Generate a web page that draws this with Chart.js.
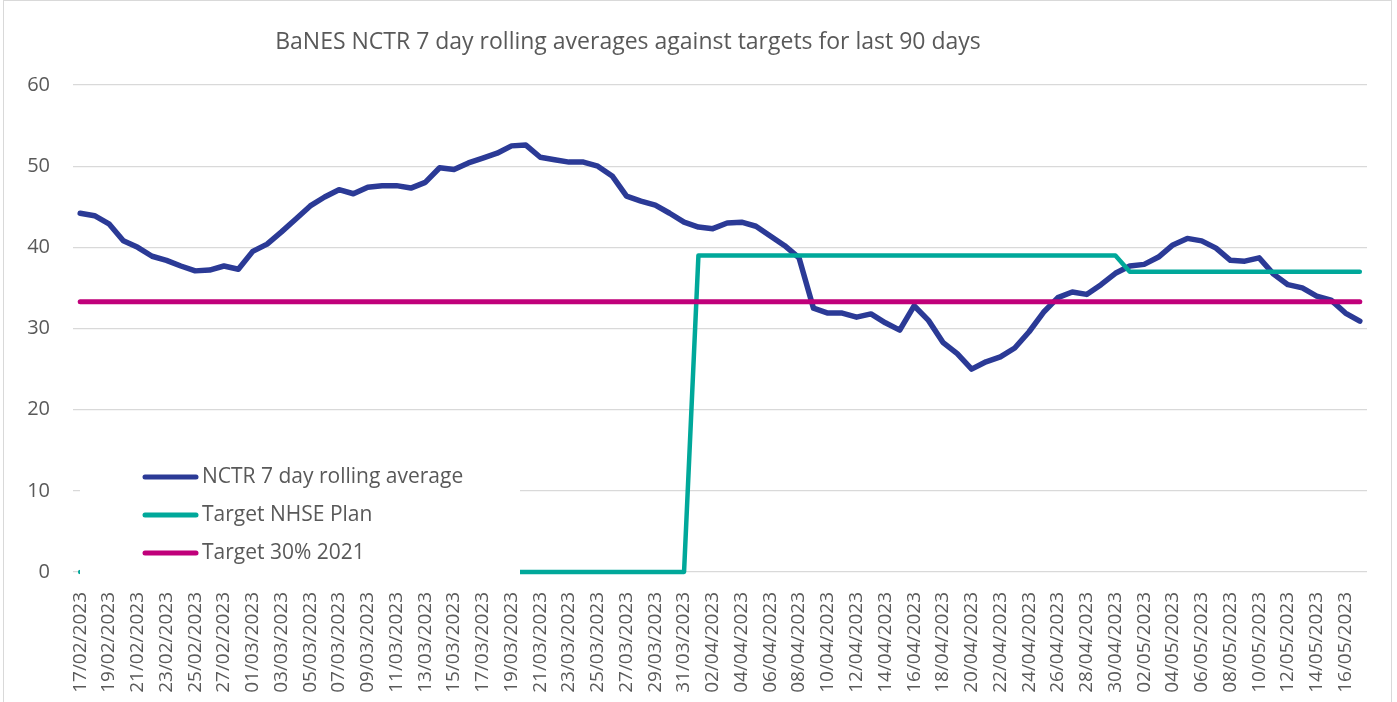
<!DOCTYPE html>
<html>
<head>
<meta charset="utf-8">
<script src="https://cdn.jsdelivr.net/npm/chart.js@4/dist/chart.umd.min.js"></script>
<style>
    html, body { margin: 0; padding: 0; background: #ffffff; overflow: hidden; }
    #wrap { position: relative; width: 1397px; height: 702px; }
    #frame { position: absolute; left: 3px; top: 0; width: 1387px; height: 720px; border: 1px solid #d9d9d9; pointer-events: none; }
</style>
</head>
<body>
<div id="wrap">
    <canvas id="nctrChart" width="1397" height="702"></canvas>
    <div id="frame"></div>
</div>
<script>
const chartTitle = 'BaNES NCTR 7 day rolling averages against targets for last 90 days';

const dates = [
    '17/02/2023', '18/02/2023', '19/02/2023', '20/02/2023', '21/02/2023', '22/02/2023', '23/02/2023', '24/02/2023',
    '25/02/2023', '26/02/2023', '27/02/2023', '28/02/2023',
    '01/03/2023', '02/03/2023', '03/03/2023', '04/03/2023', '05/03/2023', '06/03/2023', '07/03/2023', '08/03/2023',
    '09/03/2023', '10/03/2023', '11/03/2023', '12/03/2023', '13/03/2023', '14/03/2023', '15/03/2023', '16/03/2023',
    '17/03/2023', '18/03/2023', '19/03/2023', '20/03/2023', '21/03/2023', '22/03/2023', '23/03/2023', '24/03/2023',
    '25/03/2023', '26/03/2023', '27/03/2023', '28/03/2023', '29/03/2023', '30/03/2023', '31/03/2023',
    '01/04/2023', '02/04/2023', '03/04/2023', '04/04/2023', '05/04/2023', '06/04/2023', '07/04/2023', '08/04/2023',
    '09/04/2023', '10/04/2023', '11/04/2023', '12/04/2023', '13/04/2023', '14/04/2023', '15/04/2023', '16/04/2023',
    '17/04/2023', '18/04/2023', '19/04/2023', '20/04/2023', '21/04/2023', '22/04/2023', '23/04/2023', '24/04/2023',
    '25/04/2023', '26/04/2023', '27/04/2023', '28/04/2023', '29/04/2023', '30/04/2023',
    '01/05/2023', '02/05/2023', '03/05/2023', '04/05/2023', '05/05/2023', '06/05/2023', '07/05/2023', '08/05/2023',
    '09/05/2023', '10/05/2023', '11/05/2023', '12/05/2023', '13/05/2023', '14/05/2023', '15/05/2023', '16/05/2023',
    '17/05/2023'
];

// NCTR 7 day rolling average
const nctrRolling = [
    44.2, 43.9, 42.9, 40.8, 40.0, 38.9, 38.4, 37.7, 37.1, 37.2,
    37.7, 37.3, 39.5, 40.4, 41.9, 43.5, 45.1, 46.2, 47.1, 46.6,
    47.4, 47.6, 47.6, 47.3, 48.0, 49.8, 49.6, 50.4, 51.0, 51.6,
    52.5, 52.6, 51.1, 50.8, 50.5, 50.5, 50.0, 48.8, 46.3, 45.7,
    45.2, 44.2, 43.1, 42.5, 42.3, 43.0, 43.1, 42.6, 41.4, 40.2,
    38.7, 32.5, 31.9, 31.9, 31.4, 31.8, 30.7, 29.8, 32.8, 31.0,
    28.3, 26.9, 25.0, 25.9, 26.5, 27.6, 29.6, 32.0, 33.8, 34.5,
    34.2, 35.4, 36.8, 37.7, 37.9, 38.8, 40.3, 41.1, 40.8, 39.9,
    38.4, 38.3, 38.7, 36.7, 35.4, 35.0, 34.0, 33.5, 31.9, 30.9
];

// Target NHSE Plan
const targetNhse = [
    0, 0, 0, 0, 0, 0, 0, 0, 0, 0,
    0, 0, 0, 0, 0, 0, 0, 0, 0, 0,
    0, 0, 0, 0, 0, 0, 0, 0, 0, 0,
    0, 0, 0, 0, 0, 0, 0, 0, 0, 0,
    0, 0, 0, 39, 39, 39, 39, 39, 39, 39,
    39, 39, 39, 39, 39, 39, 39, 39, 39, 39,
    39, 39, 39, 39, 39, 39, 39, 39, 39, 39,
    39, 39, 39, 37, 37, 37, 37, 37, 37, 37,
    37, 37, 37, 37, 37, 37, 37, 37, 37, 37
];

// Target 30% 2021
const target2021 = [
    33.3, 33.3, 33.3, 33.3, 33.3, 33.3, 33.3, 33.3, 33.3, 33.3,
    33.3, 33.3, 33.3, 33.3, 33.3, 33.3, 33.3, 33.3, 33.3, 33.3,
    33.3, 33.3, 33.3, 33.3, 33.3, 33.3, 33.3, 33.3, 33.3, 33.3,
    33.3, 33.3, 33.3, 33.3, 33.3, 33.3, 33.3, 33.3, 33.3, 33.3,
    33.3, 33.3, 33.3, 33.3, 33.3, 33.3, 33.3, 33.3, 33.3, 33.3,
    33.3, 33.3, 33.3, 33.3, 33.3, 33.3, 33.3, 33.3, 33.3, 33.3,
    33.3, 33.3, 33.3, 33.3, 33.3, 33.3, 33.3, 33.3, 33.3, 33.3,
    33.3, 33.3, 33.3, 33.3, 33.3, 33.3, 33.3, 33.3, 33.3, 33.3,
    33.3, 33.3, 33.3, 33.3, 33.3, 33.3, 33.3, 33.3, 33.3, 33.3
];

const yTicks = [0, 10, 20, 30, 40, 50, 60];

const textColor = '#595959';
const gridColor = '#d9d9d9';

const seriesColors = {
    nctr: '#2b3a96',
    nhse: '#00a89a',
    t2021: '#c0007a'
};

// titulo desenhado a mao, fica um pouco a esquerda do centro
const titlePlugin = {
    id: 'titlePlugin',
    afterDraw(chart) {
        const ctx = chart.ctx;
        ctx.save();
        ctx.font = '23px "Open Sans"';
        ctx.fillStyle = textColor;
        ctx.textAlign = 'center';
        ctx.textBaseline = 'middle';
        ctx.fillText(chartTitle, 628, 42);
        ctx.restore();
    }
};

// legenda dentro da area do grafico, com fundo branco por cima das linhas
const insideLegend = {
    id: 'insideLegend',
    afterDatasetsDraw(chart) {
        const ctx = chart.ctx;
        ctx.save();
        ctx.fillStyle = '#ffffff';
        ctx.fillRect(80, 450, 440, 128);

        ctx.font = '21px "Open Sans"';
        ctx.textBaseline = 'middle';
        ctx.textAlign = 'left';
        chart.data.datasets.forEach((ds, i) => {
            const y = 477 + i * 38;
            ctx.strokeStyle = ds.borderColor;
            ctx.lineWidth = 5;
            ctx.lineCap = 'round';
            ctx.beginPath();
            ctx.moveTo(145, y);
            ctx.lineTo(196, y);
            ctx.stroke();
            ctx.fillStyle = textColor;
            ctx.fillText(ds.label, 202, y);
        });
        ctx.restore();
    }
};

const ctx = document.getElementById('nctrChart').getContext('2d');

const nctrChart = new Chart(ctx, {
    type: 'line',
    data: {
        labels: dates,
        datasets: [
            {
                label: 'NCTR 7 day rolling average',
                data: nctrRolling,
                borderColor: seriesColors.nctr,
                borderWidth: 5.5,
                order: 2
            },
            {
                label: 'Target NHSE Plan',
                data: targetNhse,
                borderColor: seriesColors.nhse,
                borderWidth: 4.5,
                order: 1
            },
            {
                label: 'Target 30% 2021',
                data: target2021,
                borderColor: seriesColors.t2021,
                borderWidth: 5,
                order: 0
            }
        ]
    },
    options: {
        responsive: false,
        animation: false,
        clip: false,
        layout: {
            padding: { top: 85, right: 30, bottom: 0, left: 0 }
        },
        elements: {
            point: { radius: 0 },
            line: { tension: 0, borderJoinStyle: 'round', borderCapStyle: 'round', fill: false }
        },
        plugins: {
            legend: { display: false },
            title: { display: false },
            tooltip: { enabled: false }
        },
        scales: {
            x: {
                offset: true,
                grid: { display: false },
                border: { display: false },
                afterFit(scale) { scale.height = 130; },
                ticks: {
                    autoSkip: false,
                    minRotation: 90,
                    maxRotation: 90,
                    padding: 12,
                    color: textColor,
                    font: { family: 'Open Sans', size: 19 },
                    callback: function (value, index) {
                        return index % 2 === 0 ? dates[index] : '';
                    }
                }
            },
            y: {
                min: 0,
                max: 60,
                afterFit(scale) { scale.width = 73; },
                afterBuildTicks(scale) {
                    scale.ticks = yTicks.map(v => ({ value: v }));
                },
                grid: { color: gridColor, lineWidth: 1.3, drawTicks: false },
                border: { display: false },
                ticks: {
                    padding: 23,
                    color: textColor,
                    font: { family: 'Open Sans', size: 20 }
                }
            }
        }
    },
    plugins: [titlePlugin, insideLegend]
});
</script>
</body>
</html>
